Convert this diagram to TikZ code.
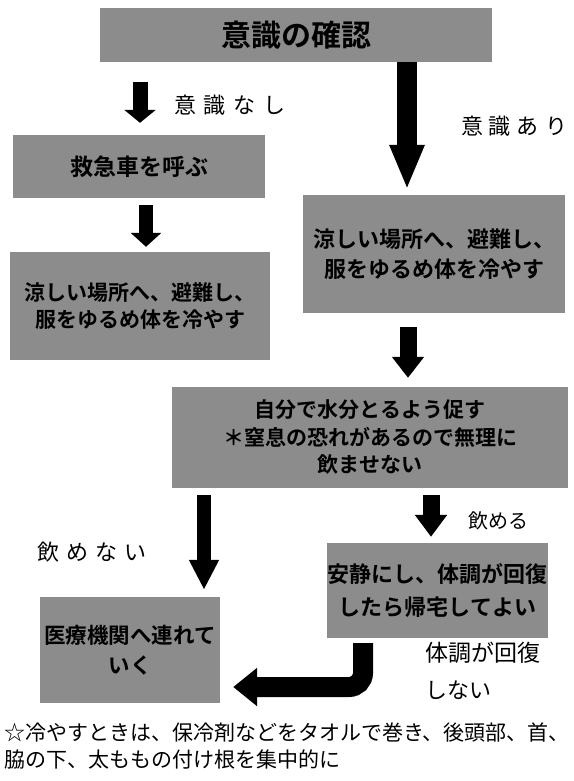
\documentclass[tikz,border=0pt]{standalone}
\usepackage{fontspec}
\setmainfont{Noto Sans CJK JP}[BoldFont={Noto Sans CJK JP Bold}]
\usetikzlibrary{arrows.meta}
\begin{document}
\begin{tikzpicture}[x=1pt,y=-1pt,
  box/.style={draw=none, fill=black!45, inner sep=0pt, text=black, align=center},
  lbl/.style={inner sep=0pt, text=black},
  blockarrow/.style={draw=black, line width=#1},
]
\useasboundingbox (0,0) rectangle (573,781);
\fill[white] (0,0) rectangle (573,781);

% boxes
\node[box, minimum width=392pt, minimum height=54pt, font=\bfseries\fontsize{30}{34}\selectfont] (top) at (296,35) {意識の確認};
\node[box, minimum width=252pt, minimum height=63pt, font=\bfseries\fontsize{23}{27}\selectfont] (kyu) at (139,166.5) {救急車を呼ぶ};
\node[box, minimum width=260pt, minimum height=108pt, font=\bfseries\fontsize{21}{27}\selectfont] (lb1) at (140,306) {涼しい場所へ、避難し、\\服をゆるめ体を冷やす};
\node[box, minimum width=262pt, minimum height=118pt, font=\bfseries\fontsize{22}{30}\selectfont] (rb1) at (434,254) {涼しい場所へ、避難し、\\服をゆるめ体を冷やす};
\node[box, minimum width=396pt, minimum height=101pt, font=\bfseries\fontsize{21}{27.5}\selectfont] (mid) at (370,437.5) {自分で水分とるよう促す\\＊窒息の恐れがあるので無理に\\飲ませない};
\node[box, minimum width=221pt, minimum height=95pt, font=\bfseries\fontsize{22}{33}\selectfont] (lr) at (437.5,590.5) {安静にし、体調が回復\\したら帰宅してよい};
\node[box, minimum width=180pt, minimum height=106pt, font=\bfseries\fontsize{21.5}{30}\selectfont] (lb) at (130,650) {医療機関へ連れて\\いく};

% columns
\coordinate (cA) at (140,0);
\coordinate (cB) at (146,0);
\coordinate (cC) at (407,0);
\coordinate (cD) at (408,0);
\coordinate (cE) at (204,0);
\coordinate (cF) at (431,0);
\coordinate (turn) at (363,687);

% arrows
\draw[blockarrow=15pt, -{Triangle[width=31pt,length=13pt]}, shorten <=20pt, shorten >=12pt] (top.south -| cA) -- (kyu.north -| cA);
\draw[blockarrow=14pt, -{Triangle[width=30pt,length=14pt]}, shorten <=7pt, shorten >=5pt] (kyu.south -| cB) -- (lb1.north -| cB);
\draw[blockarrow=20pt, -{Triangle[width=32pt,length=45pt]}, shorten >=5pt] (top.south -| cC) -- (rb1.north -| cC);
\draw[blockarrow=17pt, -{Triangle[width=31pt,length=21pt]}, shorten <=14pt, shorten >=9pt] (rb1.south -| cD) -- (mid.north -| cD);
\draw[blockarrow=14pt, -{Triangle[width=28pt,length=30pt]}, shorten <=7pt, shorten >=7pt] (mid.south -| cE) -- (lb.north -| cE);
\draw[blockarrow=17pt, -{Triangle[width=31pt,length=22pt]}, shorten <=7pt, shorten >=6pt] (mid.south -| cF) -- (lr.north -| cF);
\draw[blockarrow=20pt, rounded corners=14pt, -{Triangle[width=37pt,length=24pt]}, shorten <=5pt, shorten >=13pt] (lr.south -| turn) |- (lb.east |- turn);

% labels
\node[lbl, font=\fontsize{22}{22}\selectfont] (nashi) at (230,105) {意\hspace{8pt}識\hspace{8pt}な\hspace{8pt}し};
\node[lbl, font=\fontsize{22}{22}\selectfont] (ari) at (514,126) {意\hspace{6pt}識\hspace{6pt}あ\hspace{6pt}り};
\node[lbl, font=\fontsize{22}{22}\selectfont] (nomenai) at (92,552) {飲\hspace{7pt}め\hspace{7pt}な\hspace{7pt}い};
\node[lbl, font=\fontsize{20}{20}\selectfont] (nomeru) at (498,521) {飲める};
\node[lbl, font=\fontsize{23}{23}\selectfont, anchor=west] (kaifuku) at (425,653) {体調が回復};
\node[lbl, font=\fontsize{22}{22}\selectfont, anchor=west] (shinai) at (425,690) {しない};

% note
\node[lbl, anchor=north west, align=left, font=\fontsize{21}{27}\selectfont] (note) at (4,723) {☆冷やすときは、保冷剤などをタオルで巻き、後頭部、首、\\脇の下、太ももの付け根を集中的に};
\end{tikzpicture}
\end{document}
